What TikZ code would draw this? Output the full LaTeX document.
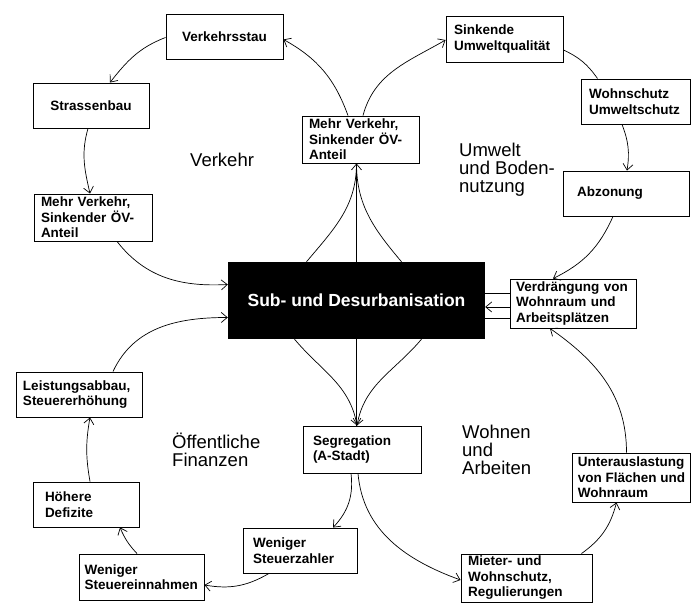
\documentclass[tikz,border=0pt]{standalone}
\usepackage{fontspec}
\setmainfont{Liberation Sans}
\usetikzlibrary{arrows.meta}
\hyphenpenalty=10000

\begin{document}
\begin{tikzpicture}[x=1pt, y=1pt,
  kasten/.style={draw, line width=0.9pt, align=left, inner ysep=2pt,
    font=\fontsize{13.5}{15.5}\selectfont\bfseries},
  bereich/.style={anchor=base west, align=left, inner sep=0pt,
    font=\fontsize{18.5}{18}\selectfont},
  linie/.style={line width=0.7pt},
  pfeil/.style={line width=0.7pt, -{Straight Barb[length=6pt,width=10pt]}}]
  \useasboundingbox (0,0) rectangle (691,604);

  % Kern
  \node[fill=black, text=white, minimum width=257pt, minimum height=77pt,
    font=\fontsize{17.5}{20}\selectfont\bfseries] (kern) at (356.5,303.5) {Sub- und Desurbanisation};

  % Verkehr
  \node[kasten, align=center, inner xsep=7pt, text width=103pt, minimum height=45pt] (stau) at (224.5,567.5) {Verkehrsstau};
  \node[kasten, align=center, inner xsep=7pt, text width=102pt, minimum height=45pt] (strasse) at (91,498.5) {Strassenbau};
  \node[kasten, inner xsep=7pt, text width=104pt, minimum height=47pt] (mvl) at (93,386.5) {Mehr Verkehr,\\Sinkender ÖV-\\Anteil};
  \node[kasten, inner xsep=7pt, text width=103pt, minimum height=47pt] (mvm) at (360.5,464.5) {Mehr Verkehr,\\Sinkender ÖV-\\Anteil};

  % Umwelt und Bodennutzung
  \node[kasten, inner xsep=8pt, text width=101pt, minimum height=46pt] (sink) at (504.5,565) {Sinkende\\Umweltqualität};
  \node[kasten, inner xsep=8pt, text width=93pt, minimum height=45pt] (wschutz) at (635.5,502.5) {Wohnschutz\\Umweltschutz};
  \node[kasten, inner xsep=14pt, text width=98pt, minimum height=45pt] (abzon) at (626,410.5) {Abzonung};
  \node[kasten, inner xsep=6pt, text width=114pt, minimum height=49pt] (verdr) at (573,300.5) {Verdrängung von\\Wohnraum und\\Arbeitsplätzen};

  % Wohnen und Arbeiten
  \node[kasten, inner xsep=10pt, text width=98pt, minimum height=47pt] (segr) at (362,154.5) {Segregation\\(A-Stadt)};
  \node[kasten, inner xsep=7pt, text width=117pt, minimum height=48pt] (mieter) at (526.5,26) {Mieter- und\\Wohnschutz,\\Regulierungen};
  \node[kasten, inner xsep=2pt, minimum width=118pt, minimum height=49pt] (unter) at (631.5,126.5) {Unterauslastung\\von Flächen und\\Wohnraum};

  % Oeffentliche Finanzen
  \node[kasten, inner xsep=10pt, text width=94pt, minimum height=45pt] (szahler) at (300,53.5) {Weniger\\Steuerzahler};
  \node[kasten, inner xsep=5.5pt, text width=114pt, minimum height=46pt] (seinn) at (141.5,27) {Weniger\\Steuereinnahmen};
  \node[kasten, inner xsep=12pt, text width=82pt, minimum height=45pt] (defiz) at (86,99.5) {Höhere\\Defizite};
  \node[kasten, inner xsep=7pt, text width=112pt, minimum height=45pt] (leist) at (79,209.5) {Leistungsabbau,\\Steuererhöhung};

  % Bereiche (Anker auf der letzten Zeile)
  \node[bereich] (verkehr) at (190,437) {Verkehr};
  \node[bereich] (umwelt) at (459,411) {Umwelt\\und Boden-\\nutzung};
  \node[bereich] (finanzen) at (172,137) {Öffentliche\\Finanzen};
  \node[bereich] (wohnen) at (462,129) {Wohnen\\und\\Arbeiten};

  % Kreis Verkehr
  \draw[pfeil] ([xshift=-12.5pt]mvm.north) to[out=110,in=-29] ([yshift=-3pt]stau.east);
  \draw[pfeil] ([yshift=-1pt]stau.west) to[out=201,in=52] ([xshift=19pt]strasse.north);
  \draw[pfeil] ([xshift=-3pt]strasse.south) to[out=254,in=103] ([xshift=-3pt]mvl.north);
  \draw[pfeil] ([xshift=24pt]mvl.south) to[out=-52,in=183] ([yshift=16pt]kern.west);
  \draw[linie] ([xshift=-50pt]kern.north) to[out=50,in=-90] ([xshift=-4pt]mvm.south);
  \draw[pfeil] (kern.north) -- ([xshift=-4pt]mvm.south);
  \draw[linie] ([xshift=45pt]kern.north) to[out=130,in=-90] ([xshift=-4pt]mvm.south);

  % Kreis Umwelt
  \draw[pfeil] ([xshift=2.5pt]mvm.north) to[out=75,in=210] ([yshift=-1pt]sink.west);
  \draw[linie] ([yshift=-11pt]sink.east) to[bend left=15] ([xshift=-38pt]wschutz.north);
  \draw[pfeil] ([xshift=-13.5pt]wschutz.south) to[bend left=15] ([xshift=1pt]abzon.north);
  \draw[pfeil] ([xshift=-13pt]abzon.south) to[bend left=20] ([xshift=-20pt]verdr.north);
  \draw[linie] ([yshift=10.5pt]verdr.west) -- ([yshift=7.5pt]kern.east);
  \draw[pfeil] ([yshift=-3.5pt]verdr.west) -- ([yshift=-6.5pt]kern.east);
  \draw[linie] ([yshift=-14.5pt]verdr.west) -- ([yshift=-17.5pt]kern.east);

  % Kreis Wohnen
  \draw[pfeil] ([xshift=-62pt]kern.south) to[out=-50,in=100] ([xshift=-5pt]segr.north);
  \draw[linie] (kern.south) -- ([xshift=-5.5pt]segr.north);
  \draw[pfeil] ([xshift=65pt]kern.south) to[out=-130,in=80] ([xshift=-5pt]segr.north);
  \draw[pfeil] ([xshift=-4pt]segr.south) to[out=-85,in=160] ([yshift=-2pt]mieter.west);
  \draw[pfeil] ([xshift=55pt]mieter.north) to[bend right=20] ([xshift=-15pt]unter.south);
  \draw[pfeil] ([xshift=-5pt]unter.north) to[out=90,in=-35] ([xshift=-23pt]verdr.south);

  % Kreis Finanzen
  \draw[pfeil] ([xshift=-11pt]segr.south) to[bend left=25] ([xshift=33pt]szahler.north);
  \draw[pfeil] ([xshift=-31pt]szahler.south) to[bend left=20] ([yshift=-8pt]seinn.east);
  \draw[pfeil] ([xshift=-4.5pt]seinn.north) to[bend left=10] ([xshift=34pt]defiz.south);
  \draw[pfeil] ([xshift=4pt]defiz.north) to[bend left=10] ([xshift=11pt]leist.south);
  \draw[pfeil] ([xshift=34pt]leist.north) to[out=65,in=180] ([yshift=-17pt]kern.west);
\end{tikzpicture}
\end{document}
